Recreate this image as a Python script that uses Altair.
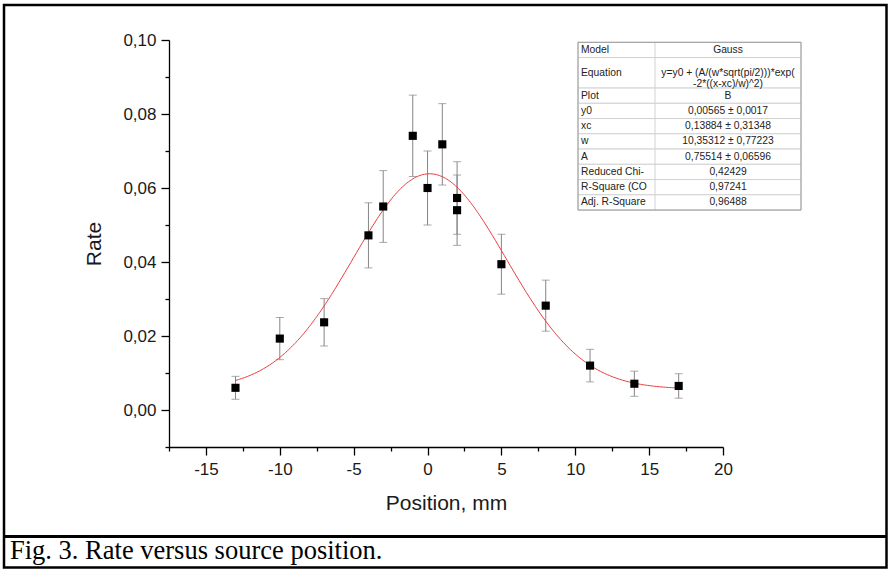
import altair as alt
import pandas as pd

# ---------------- data ----------------
positions = [-13, -10, -7, -4, -3, -1, 0, 1, 2, 2, 5, 8, 11, 14, 17]
rates = [0.0060, 0.0193, 0.0237, 0.0472, 0.0550, 0.0741, 0.0600, 0.0718,
         0.0573, 0.0540, 0.0394, 0.0282, 0.0120, 0.0071, 0.0065]
errors = [0.0031, 0.0057, 0.0064, 0.0088, 0.0097, 0.0110, 0.0100, 0.0110,
          0.0098, 0.0095, 0.0081, 0.0069, 0.0044, 0.0034, 0.0033]

# Gauss fit parameters (from the table in the chart)
fit_y0 = 0.00565
fit_xc = 0.13884
fit_w = 10.35312
fit_A = 0.75514
fit_start = -13
fit_stop = 17

table_labels = ["Model", "Equation", "Plot", "y0", "xc", "w", "A",
                "Reduced Chi-", "R-Square (CO", "Adj. R-Square"]
table_values = ["Gauss",
                "y=y0 + (A/(w*sqrt(pi/2)))*exp(\n-2*((x-xc)/w)^2)",
                "B", "0,00565 ± 0,0017", "0,13884 ± 0,31348",
                "10,35312 ± 0,77223", "0,75514 ± 0,06596",
                "0,42429", "0,97241", "0,96488"]

x_major = [-15, -10, -5, 0, 5, 10, 15, 20]
x_minor = [-17.5, -12.5, -7.5, -2.5, 2.5, 7.5, 12.5, 17.5]
y_major = [0.0, 0.02, 0.04, 0.06, 0.08, 0.10]
y_minor = [-0.01, 0.01, 0.03, 0.05, 0.07, 0.09]
x_domain = [-17.5, 20]
y_domain = [-0.01, 0.10]

x_title = "Position, mm"
y_title = "Rate"
caption = "Fig. 3. Rate versus source position."

# ---------------- layout ----------------
W, H = 554, 407
LEFT, TOP = 169, 40
SANS = "Liberation Sans"
SERIF = "Liberation Serif"
INK = "#1a1a1a"

points = pd.DataFrame({"pos": positions, "rate": rates, "err": errors})

x_axis = alt.Axis(
    orient="bottom", values=x_major, grid=False, domainColor="black", domainWidth=1.3,
    tickColor="black", tickWidth=1.3, tickSize=8,
    labelExpr="toString(datum.value)",
    labelFont=SANS, labelFontSize=17, labelColor=INK, labelPadding=6,
    labelFlush=False, labelOverlap=False,
    titleFont=SANS, titleFontSize=21, titleFontWeight="normal", titleColor=INK,
    titlePadding=15,
)
y_axis = alt.Axis(
    orient="left", values=y_major, grid=False, domainColor="black", domainWidth=1.3,
    tickColor="black", tickWidth=1.3, tickSize=8,
    labelExpr="replace(format(datum.value, '.2f'), '.', ',')",
    labelFont=SANS, labelFontSize=17, labelColor=INK, labelPadding=5,
    labelFlush=False, labelOverlap=False,
    titleFont=SANS, titleFontSize=21, titleFontWeight="normal", titleColor=INK,
    titlePadding=18,
)
x_axis_minor = alt.Axis(orient="bottom", values=x_minor, grid=False, domain=False,
                        labels=False, tickColor="black", tickWidth=1.3, tickSize=4)
y_axis_minor = alt.Axis(orient="left", values=y_minor, grid=False, domain=False,
                        labels=False, tickColor="black", tickWidth=1.3, tickSize=4)

xs = alt.Scale(domain=x_domain, nice=False, zero=False)
ys = alt.Scale(domain=y_domain, nice=False, zero=False)

errbars = alt.Chart(points).mark_errorbar(
    ticks=True, size=8, thickness=1, color="#858585"
).encode(
    x=alt.X("pos:Q", scale=xs, axis=x_axis, title=x_title),
    y=alt.Y("rate:Q", scale=ys, axis=y_axis, title=y_title),
    yError="err:Q",
)

minor_ticks = alt.Chart(points).mark_point(opacity=0).encode(
    x=alt.X("pos:Q", scale=xs, axis=x_axis_minor, title=None),
    y=alt.Y("rate:Q", scale=ys, axis=y_axis_minor, title=None),
)

curve = alt.Chart(alt.sequence(start=fit_start, stop=fit_stop + 0.05, step=0.1, as_="pos")).transform_calculate(
    rate=f"{fit_y0} + ({fit_A}/({fit_w}*sqrt(PI/2)))*exp(-2*pow((datum.pos-{fit_xc})/{fit_w},2))"
).mark_line(color="#ec3b3b", strokeWidth=1).encode(
    x=alt.X("pos:Q", scale=xs, axis=None),
    y=alt.Y("rate:Q", scale=ys, axis=None),
)

squares = alt.Chart(points).mark_square(size=66, color="black", opacity=1).encode(
    x=alt.X("pos:Q", scale=xs, axis=None),
    y=alt.Y("rate:Q", scale=ys, axis=None),
)

# ---------------- parameter table ----------------
table = pd.DataFrame({"idx": list(range(len(table_labels))),
                      "label": table_labels, "value": table_values})
T_LEFT, T_DIV, T_RIGHT, T_TOP, T_UNIT = 409, 486, 632, 2.3, 15.25

tbase = alt.Chart(table).transform_calculate(
    top=f"{T_TOP} + {T_UNIT}*(datum.idx + (datum.idx >= 2 ? 1 : 0))",
).transform_calculate(
    bot=f"datum.top + {T_UNIT}*(datum.idx == 1 ? 2 : 1)",
).transform_calculate(
    mid="(datum.top + datum.bot)/2",
)

t_rows = tbase.mark_rect(fill="white", stroke="#d2d2d2", strokeWidth=1).encode(
    x=alt.value(T_LEFT), x2=alt.value(T_RIGHT),
    y=alt.Y("top:Q", scale=None, axis=None), y2=alt.Y2("bot:Q"),
)
t_div = alt.Chart(pd.DataFrame({"a": [0]})).mark_rule(color="#d2d2d2", strokeWidth=1).encode(
    x=alt.value(T_DIV), y=alt.value(T_TOP), y2=alt.value(T_TOP + 11 * T_UNIT)
)
t_border = alt.Chart(pd.DataFrame({"a": [0]})).mark_rect(
    filled=False, stroke="#9a9a9a", strokeWidth=1
).encode(
    x=alt.value(T_LEFT), x2=alt.value(T_RIGHT),
    y=alt.value(T_TOP), y2=alt.value(T_TOP + 11 * T_UNIT),
)
t_labels = tbase.mark_text(align="left", baseline="middle", font=SANS, fontSize=10.3,
                           color="#222222").encode(
    x=alt.value(T_LEFT + 3), y=alt.Y("mid:Q", scale=None, axis=None), text="label:N"
)
t_values = tbase.mark_text(align="center", baseline="middle", font=SANS, fontSize=10.3,
                           color="#222222", lineBreak="\n", lineHeight=11).encode(
    x=alt.value((T_DIV + T_RIGHT) / 2), y=alt.Y("mid:Q", scale=None, axis=None), text="value:N"
)

# ---------------- frame + caption ----------------
one = pd.DataFrame({"a": [0]})
frame = alt.Chart(one).mark_rect(filled=False, stroke="black", strokeWidth=2.5).encode(
    x=alt.value(4 - LEFT), x2=alt.value(886.5 - LEFT),
    y=alt.value(5 - TOP), y2=alt.value(567.5 - TOP),
)
divider = alt.Chart(one).mark_rule(color="black", strokeWidth=3).encode(
    x=alt.value(4 - LEFT), x2=alt.value(886.5 - LEFT), y=alt.value(536.5 - TOP)
)
cap = alt.Chart(pd.DataFrame({"t": [caption]})).mark_text(
    align="left", baseline="alphabetic", font=SERIF, fontSize=26.5, color="black"
).encode(x=alt.value(10 - LEFT), y=alt.value(559 - TOP), text="t:N")

chart = alt.layer(
    errbars, minor_ticks, curve, squares,
    t_rows, t_div, t_border, t_labels, t_values,
    frame, divider, cap,
).resolve_axis(x="independent", y="independent").properties(
    width=W, height=H,
    autosize=alt.AutoSizeParams(type="none"),
    padding={"left": LEFT, "top": TOP, "right": 888 - LEFT - W, "bottom": 569 - TOP - H},
    background="white",
).configure_view(strokeWidth=0)

chart.save("out.html", embed_options={"renderer": "svg", "actions": False})
